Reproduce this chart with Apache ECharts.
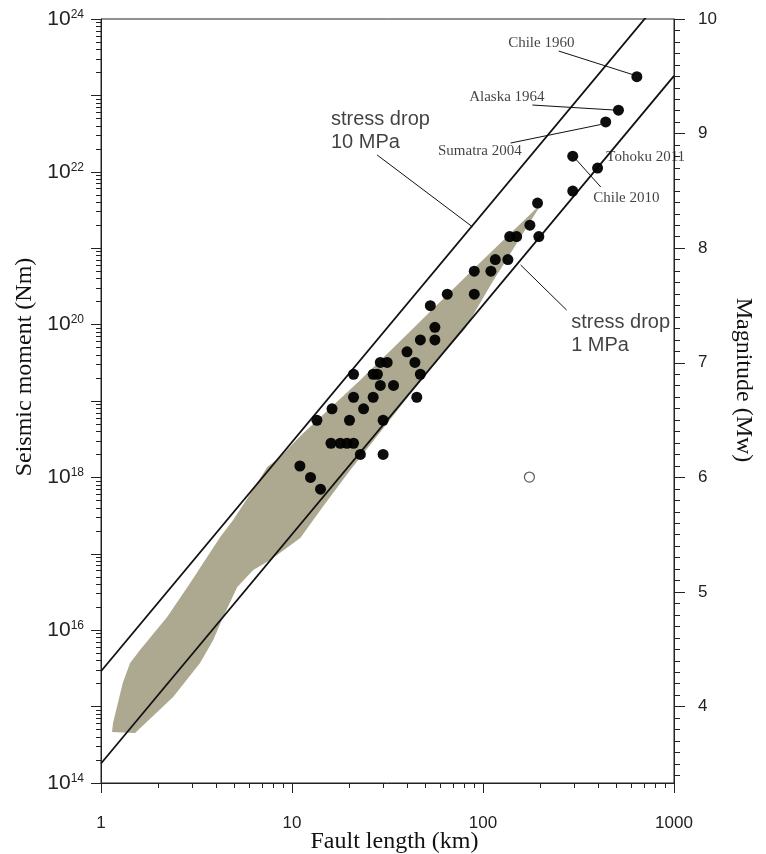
<!DOCTYPE html>
<html>
<head>
<meta charset="utf-8">
<script src="https://cdn.jsdelivr.net/npm/echarts@6/dist/echarts.min.js"></script>
<style>
  html, body { margin: 0; padding: 0; background: #fff; }
  #chart { width: 766px; height: 854px; }
</style>
</head>
<body>
<div id="chart"></div>
<script>
// fault length (km) and seismic moment (Nm) of the plotted events
var eventLength = [639, 512, 439, 295, 398, 295, 193, 176, 138, 150, 196, 116, 135, 90, 110,
  65, 90, 53, 56, 47, 56, 40, 44, 29, 31.5, 21, 26.6, 28, 47, 29, 34, 21, 26.6, 45,
  16.2, 23.7, 13.5, 20, 30, 16, 17.9, 19.4, 21, 22.8, 30, 11, 12.5, 14.1];
var eventMoment = [1.76e23, 6.4e22, 4.5e22, 1.6e22, 1.12e22, 5.6e21, 3.9e21, 2.0e21, 1.42e21, 1.42e21, 1.42e21, 7.1e20, 7.1e20, 5.0e20, 5.0e20,
  2.5e20, 2.5e20, 1.77e20, 9.2e19, 6.3e19, 6.3e19, 4.4e19, 3.2e19, 3.2e19, 3.2e19, 2.24e19, 2.24e19, 2.24e19, 2.24e19, 1.6e19, 1.6e19, 1.12e19, 1.12e19, 1.12e19,
  7.9e18, 7.9e18, 5.6e18, 5.6e18, 5.6e18, 2.8e18, 2.8e18, 2.8e18, 2.8e18, 2.0e18, 2.0e18, 1.41e18, 1.0e18, 7.0e17];

// the single open circle
var openLength = [175];
var openMoment = [1.01e18];

// outline of the shaded field (upper edge then lower edge)
var bandLength = [196, 91.4, 43.3, 22.8, 11.05, 8.68, 7.42, 6.58, 4.92, 4.21, 3.43, 2.93, 2.22, 1.60, 1.42, 1.30, 1.156, 1.142,
  1.507, 2.386, 3.30, 3.87, 4.36, 5.17, 6.27, 7.69, 11.05, 14.6, 20.2, 29.0, 41.7, 59.9, 81.1, 109.6, 148.3, 196];
var bandMoment = [3.57e21, 5.67e20, 9.0e19, 1.88e19, 3.48e18, 1.85e18, 1.37e18, 8.45e17, 2.77e17, 1.66e17, 7.58e16, 4.15e16, 1.49e16, 5.5e15, 3.72e15, 2.04e15, 6.1e14, 4.65e14,
  4.51e14, 1.34e15, 3.72e15, 7.45e15, 1.49e16, 3.68e16, 6.14e16, 8.3e16, 1.61e17, 4.23e17, 1.25e18, 3.93e18, 1.24e19, 3.77e19, 9.0e19, 3.3e20, 1.1e21, 3.36e21];

// constant stress drop lines (M0 ~ L^3)
var stress10Length = [1, 1000];
var stress10Moment = [2.9e15, 2.9e24];
var stress1Length = [1, 1000];
var stress1Moment = [1.8e14, 1.8e23];

// event names and where they sit
var eventNames = ['Chile 1960', 'Alaska 1964', 'Sumatra 2004', 'Tohoku 2011', 'Chile 2010'];
var nameLength = [134.6, 84.1, 57.8, 439.5, 375.6];
var nameMoment = [4.85e23, 9.53e22, 1.87e22, 1.56e22, 4.54e21];

var stressNames = ['stress drop\n10 MPa', 'stress drop\n1 MPa'];
var stressNameLength = [15.9, 287.8];
var stressNameMoment = [3.42e22, 7.64e19];

// leader lines: [startL, startM, endL, endM]
var leaders = [
  [249, 3.81e23, 616.6, 1.85e23],
  [181.4, 7.48e22, 484, 6.44e22],
  [139.5, 2.38e22, 413.7, 4.16e22],
  [413.7, 6.32e21, 302, 1.52e22],
  [27.9, 1.66e22, 87.9, 1.91e21],
  [157.4, 6.03e20, 274, 1.55e20]
];

// ticks and labels
var xTicks = [1, 10, 100, 1000];
var xLabels = [1, 10, 100, 1000];
var yTicks = [1e14, 1e15, 1e16, 1e17, 1e18, 1e19, 1e20, 1e21, 1e22, 1e23, 1e24];
var yLabels = [1e14, 1e16, 1e18, 1e20, 1e22, 1e24];
var mwTicks = [4, 5, 6, 7, 8, 9, 10];
var mwLabels = [4, 5, 6, 7, 8, 9, 10];

var xMinor = [], yMinor = [], mwMinor = [];
[1, 10, 100].forEach(function (d) {
  for (var k = 2; k <= 9; k++) xMinor.push(k * d);
});
yTicks.slice(0, -1).forEach(function (d) {
  for (var k = 2; k <= 9; k++) yMinor.push(k * d);
});
for (var t = 34; t <= 100; t++) {
  if (t % 10 !== 0) mwMinor.push(t / 10);
}

var serif = 'Liberation Serif';
var sans = 'Liberation Sans';
var axisColor = '#222';
// a hair above 1e24 so the top decade tick and label survive float rounding
var yMax = 1.000001e24;

var chart = echarts.init(document.getElementById('chart'), null, { renderer: 'canvas' });

var series = [
  {
    type: 'custom',
    z: 1,
    silent: true,
    data: [[bandLength[0], bandMoment[0]]],
    renderItem: function (params, api) {
      var pts = bandLength.map(function (l, i) { return api.coord([l, bandMoment[i]]); });
      return {
        type: 'polygon',
        shape: { points: pts },
        style: { fill: '#ada890', stroke: null }
      };
    }
  },
  {
    type: 'line', z: 2, silent: true, symbol: 'none',
    data: stress10Length.map(function (l, i) { return [l, stress10Moment[i]]; }),
    lineStyle: { color: '#111', width: 1.8 }
  },
  {
    type: 'line', z: 2, silent: true, symbol: 'none',
    data: stress1Length.map(function (l, i) { return [l, stress1Moment[i]]; }),
    lineStyle: { color: '#111', width: 1.8 }
  },
  {
    type: 'scatter', z: 4, silent: true,
    symbolSize: 11,
    data: eventLength.map(function (l, i) { return [l, eventMoment[i]]; }),
    itemStyle: { color: '#000', opacity: 0.95 }
  },
  {
    type: 'scatter', z: 4, silent: true,
    symbolSize: 10,
    data: openLength.map(function (l, i) { return [l, openMoment[i]]; }),
    itemStyle: { color: '#fff', borderColor: '#333', borderWidth: 1.2 }
  },
  {
    type: 'scatter', z: 5, silent: true,
    symbolSize: 1,
    itemStyle: { color: 'transparent' },
    data: eventNames.map(function (n, i) {
      return { value: [nameLength[i], nameMoment[i]], name: n };
    }),
    label: {
      show: true, position: 'right', distance: 0,
      formatter: '{b}', fontFamily: serif, fontSize: 15, color: '#111'
    }
  },
  {
    type: 'scatter', z: 5, silent: true,
    symbolSize: 1,
    itemStyle: { color: 'transparent' },
    data: stressNames.map(function (n, i) {
      return { value: [stressNameLength[i], stressNameMoment[i]], name: n };
    }),
    label: {
      show: true, position: 'right', distance: 0, align: 'left',
      formatter: '{b}', fontFamily: sans, fontSize: 20, lineHeight: 23, color: '#111'
    }
  }
];

leaders.forEach(function (s) {
  series.push({
    type: 'line', z: 3, silent: true, symbol: 'none',
    data: [[s[0], s[1]], [s[2], s[3]]],
    lineStyle: { color: '#111', width: 1 }
  });
});

var option = {
  backgroundColor: '#fff',
  animation: false,
  grid: {
    left: 101, right: 92, top: 19, bottom: 71,
    outerBoundsMode: 'none',
    containLabel: false,
    show: true, borderColor: axisColor, borderWidth: 1
  },
  xAxis: [
    {
      type: 'log', logBase: 10, min: 1, max: 1000, position: 'bottom',
      axisLine: { lineStyle: { color: axisColor, width: 1 } },
      axisTick: { customValues: xTicks, length: 10, lineStyle: { color: axisColor } },
      axisLabel: {
        customValues: xLabels, margin: 32, fontSize: 17, fontFamily: sans, color: '#222',
        formatter: function (v) { return String(Math.round(v)); }
      },
      splitLine: { show: false },
      name: 'Fault length (km)', nameLocation: 'middle', nameGap: 47, nameMoveOverlap: false,
      nameTextStyle: { fontFamily: serif, fontSize: 24, color: '#111', padding: [0, 0, 0, 14] }
    },
    {
      type: 'log', logBase: 10, min: 1, max: 1000, position: 'bottom',
      axisLine: { show: false },
      axisTick: { customValues: xMinor, length: 5, lineStyle: { color: axisColor } },
      axisLabel: { show: false },
      splitLine: { show: false }
    }
  ],
  yAxis: [
    {
      type: 'log', logBase: 10, min: 1e14, max: yMax, position: 'left',
      axisLine: { lineStyle: { color: axisColor, width: 1 } },
      axisTick: { customValues: yTicks, length: 10, lineStyle: { color: axisColor } },
      axisLabel: {
        customValues: yLabels, margin: 17,
        formatter: function (v) { return '{b|10}{s|' + Math.round(Math.log10(v)) + '}'; },
        rich: {
          b: { fontSize: 21, fontFamily: sans, color: '#222' },
          s: { fontSize: 12, fontFamily: sans, color: '#222', verticalAlign: 'top' }
        }
      },
      splitLine: { show: false },
      name: 'Seismic moment (Nm)', nameLocation: 'middle', nameGap: 64,
      nameTextStyle: { fontFamily: serif, fontSize: 24, color: '#111', padding: [0, 0, 0, 68] }
    },
    {
      type: 'log', logBase: 10, min: 1e14, max: yMax, position: 'left',
      axisLine: { show: false },
      axisTick: { customValues: yMinor, length: 5, lineStyle: { color: axisColor } },
      axisLabel: { show: false },
      splitLine: { show: false }
    },
    {
      type: 'value', min: 10 / 3, max: 10, position: 'right',
      axisLine: { lineStyle: { color: axisColor, width: 1 } },
      axisTick: { customValues: mwTicks, length: 11, lineStyle: { color: axisColor } },
      axisLabel: { customValues: mwLabels, margin: 24, fontSize: 17, fontFamily: sans, color: '#222' },
      splitLine: { show: false },
      name: 'Magnitude (Mw)', nameLocation: 'middle', nameGap: 57, nameRotate: -90,
      nameTextStyle: { fontFamily: serif, fontSize: 24, color: '#111', padding: [0, 42, 0, 0] }
    },
    {
      type: 'value', min: 10 / 3, max: 10, position: 'right',
      axisLine: { show: false },
      axisTick: { customValues: mwMinor, length: 6, lineStyle: { color: axisColor } },
      axisLabel: { show: false },
      splitLine: { show: false }
    }
  ],
  series: series
};

chart.setOption(option);
</script>
</body>
</html>
